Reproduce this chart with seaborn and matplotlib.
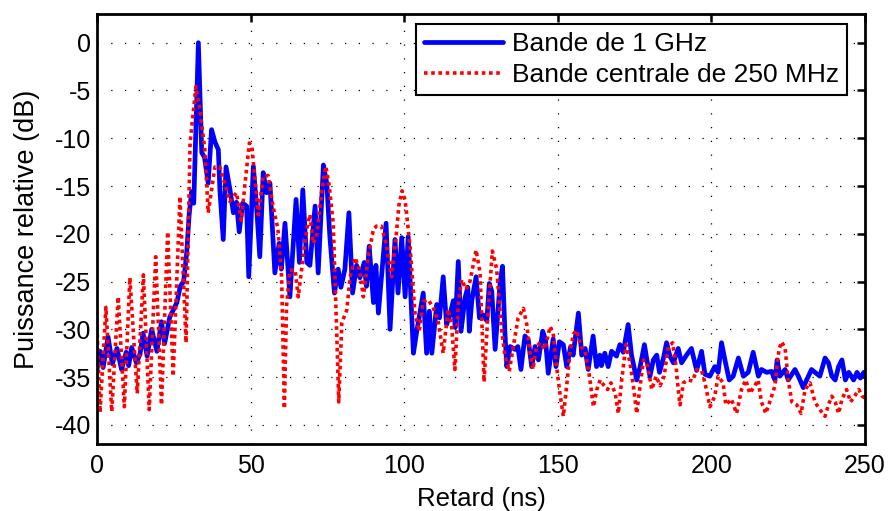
import matplotlib
matplotlib.use("Agg")
import matplotlib.pyplot as plt
import seaborn as sns
import pandas as pd

# ---- data ----
blue_delay = [0, 1, 2, 3.6, 5, 6.5, 8, 9.5, 10.3, 11.3, 12.8, 14, 15, 16.3, 17.8, 19.5, 21, 22, 23.7, 24.8,
              26, 27.1, 28.2, 29.2, 30, 30.8, 31.5, 33, 34.1, 35, 36.2, 37.3, 38.4, 39.5, 40, 41.1, 42, 43.3,
              44.4, 45.4, 46.3, 47.4, 48.7, 49.4, 50.9, 52, 53, 54.1, 55.2, 56.3, 57.9, 59.3, 60, 61.2, 62.8,
              64.8, 65.9, 67, 68.3, 69.3, 71, 72, 73.7, 74.8, 75.8, 77.3, 78.5, 79.4, 80.7, 82, 83.2, 84.5,
              85.6, 87, 87.7, 88.6, 90, 90.8, 91.6, 94.1, 95.4, 97, 98, 99.2, 100.3, 101.3, 103, 104, 106.2,
              107.3, 108.2, 109, 110.6, 111.5, 112.7, 113.8, 114.9, 116, 116.6, 117.6, 118.5, 119.8, 120.7,
              121.2, 122, 123.4, 124.5, 125.8, 126.9, 127.7, 128.5, 129.6, 131.2, 132, 132.8, 133.4, 134.5,
              136.1, 137, 138, 139.3, 140.4, 141.5, 142.6, 143.7, 145.1, 146.0, 146.9, 148.5, 149.4, 150.5,
              151.8, 152.9, 154.2, 155, 156.7, 157.8, 158.9, 159.9, 161.5, 162.6, 163.7, 164.2, 165.3, 166.4,
              167.5, 169.1, 170.2, 171.3, 172.9, 174, 175.7, 176.8, 178.2, 179, 180, 181.1, 182.2, 183.1,
              184.4, 185.4, 186.5, 187.6, 189.2, 190.3, 191.9, 193.5, 194.6, 195.2, 196.8, 197.9, 199.5,
              201.1, 202.2, 203.3, 204.4, 205.8, 207.1, 208.8, 210.4, 212, 213.6, 215.3, 216.3, 218, 219.6,
              220.7, 221.4, 222.3, 224, 225, 227.2, 228.3, 229.9, 231, 232.6, 233.7, 235.3, 237, 238.1,
              239.2, 240.3, 241.4, 242.5, 243.6, 244.7, 246.3, 247.4, 248.5, 249.6, 250]
blue_power = [-34.2, -32.3, -34.0, -30.8, -33.6, -32.0, -34.2, -32.4, -33.8, -31.9, -33.5, -32.6, -30.4, -32.8,
              -30.0, -32.3, -29.2, -31.5, -28.7, -28.0, -27.2, -25.5, -25.0, -22.0, -18.0, -15.6, -16.8, 0.0,
              -11.5, -12.0, -14.7, -9.1, -10.4, -11.2, -15.4, -20.6, -13.0, -15.4, -17.8, -16.7, -19.8, -16.8,
              -17.1, -24.5, -12.95, -17.4, -22.4, -13.6, -15.7, -14.7, -24.1, -21.0, -23.7, -18.9, -26.6,
              -16.4, -23.0, -15.4, -23.0, -23.3, -17.1, -24.1, -12.8, -14.7, -20.3, -26.2, -23.7, -25.6,
              -23.7, -17.8, -26.2, -23.3, -24.6, -23.0, -25.5, -21.3, -27.2, -23.3, -28.3, -18.9, -30.0,
              -20.6, -26.2, -20.4, -26.6, -20.3, -32.5, -30.4, -26.2, -32.5, -28.1, -32.5, -27.4, -28.8,
              -24.5, -29.5, -28.5, -27.0, -29.8, -22.9, -30.2, -26.7, -25.6, -30.2, -27.0, -24.5, -28.8,
              -28.5, -29.1, -25.2, -26.0, -32.1, -25.2, -23.4, -30.4, -33.9, -31.8, -32.1, -31.8, -34.2,
              -30.7, -31.1, -33.9, -31.8, -33.2, -30.2, -31.1, -34.6, -31.0, -33.9, -31.3, -31.6, -33.9,
              -31.8, -32.7, -28.3, -32.7, -32.0, -34.2, -30.7, -33.9, -32.7, -33.8, -32.5, -33.9, -32.3,
              -32.8, -31.6, -32.4, -29.5, -32.7, -35.3, -33.9, -31.6, -33.2, -34.9, -33.2, -32.7, -34.5,
              -33.0, -31.4, -32.8, -33.5, -32.0, -33.5, -32.7, -32.0, -33.5, -34.3, -32.3, -34.7, -34.9,
              -33.9, -34.5, -31.4, -33.2, -35.3, -34.9, -33.0, -34.9, -34.5, -32.4, -34.9, -34.2, -34.5,
              -34.4, -35.3, -33.2, -34.9, -34.2, -35.3, -34.2, -34.9, -36.1, -35.3, -34.2, -34.5, -34.9,
              -33.0, -33.5, -34.9, -35.3, -33.9, -33.2, -35.3, -34.5, -35.3, -34.5, -35.1, -34.5, -34.8]

red_delay = [0, 1, 2.9, 4.8, 6.9, 8.9, 10.7, 13.1, 15.1, 17, 19.1, 21, 23, 24.8, 27, 29, 30.3, 32.2, 33.5,
             35.1, 36.2, 38.4, 40, 42.2, 43.2, 45.4, 47, 48.1, 49.6, 50.4, 52.5, 54.1, 55.7, 57.3, 58.9, 60.1,
             61, 61.7, 62.8, 64.5, 65.5, 66.9, 68.3, 69.3, 70.4, 71.5, 73.2, 74.5, 75.6, 76.9, 78, 78.7, 79.7,
             81.3, 82.4, 84, 85.4, 86.7, 88.3, 90, 91, 92.6, 94.1, 95.9, 97.3, 98.3, 99.3, 100.3, 101.9,
             103.5, 104.9, 106.2, 107.8, 109.4, 111, 112.7, 114.3, 115.4, 116.5, 117.6, 118.7, 120.1, 121.4,
             123.4, 124.7, 126, 127.3, 128.7, 130.1, 131.7, 132.8, 134.2, 135.5, 137.1, 138.8, 139.9, 141,
             141.9, 143.1, 144.2, 145.8, 147.5, 148.5, 149.6, 150.7, 151.8, 152.9, 154, 155.1, 156.2, 157.5,
             158.9, 160.3, 161.6, 162.7, 163.8, 165.1, 166.2, 167.3, 168.7, 169.7, 170.8, 172.2, 173.5,
             174.6, 175.7, 176.8, 177.9, 179.2, 180.6, 182, 183.3, 184.6, 186, 187.4, 188.5, 189.2, 189.8,
             190.9, 192.3, 193.9, 195.2, 196.8, 197.9, 199.5, 201.1, 202.2, 203.8, 204.7, 206.5, 208.2,
             209.8, 211.2, 212.5, 214.1, 215.2, 216.3, 217.7, 219, 220.7, 221.4, 222.1, 222.9, 224, 225,
             226.2, 227.8, 229.2, 230.5, 232.1, 233.7, 235.3, 237, 238.1, 239.2, 240.3, 241.4, 242.5, 244,
             245.3, 246.6, 248, 249.1, 250]
red_power = [-29.7, -38.7, -27.7, -38.6, -26.6, -38.1, -24.6, -36.7, -24.3, -38.4, -22.4, -37.9, -19.8, -34.9,
             -16.1, -31.4, -10.5, -4.6, -7.0, -11.2, -17.8, -13.0, -13.0, -15.4, -16.6, -15.7, -18.6, -15.0,
             -10.5, -10.8, -18.0, -14.0, -13.9, -17.1, -19.5, -24.5, -38.3, -27.6, -23.8, -23.8, -26.6, -23.0,
             -19.5, -18.0, -21.0, -20.3, -15.4, -12.95, -15.0, -18.9, -30.0, -37.6, -29.3, -28.0, -24.5,
             -22.5, -23.7, -26.6, -22.4, -19.5, -19.2, -19.2, -21.0, -24.5, -20.5, -17.0, -15.5, -16.5,
             -21.3, -28.3, -30.2, -27.1, -26.9, -27.7, -29.1, -32.5, -27.9, -29.5, -34.2, -27.4, -24.8,
             -25.8, -25.0, -21.7, -24.1, -35.5, -28.1, -21.8, -23.7, -30.0, -32.8, -34.4, -31.8, -28.8,
             -27.8, -29.5, -32.5, -34.2, -31.8, -31.4, -32.1, -29.7, -30.4, -33.9, -36.7, -39.1, -35.9,
             -32.3, -30.5, -30.1, -31.8, -32.3, -34.9, -38.1, -36.3, -35.3, -35.9, -36.3, -35.6, -36.7,
             -38.8, -35.3, -31.6, -33.5, -35.9, -38.8, -35.9, -33.2, -33.8, -36.3, -34.9, -35.9, -34.9,
             -31.8, -31.4, -33.9, -36.3, -37.9, -35.6, -35.3, -35.4, -34.2, -34.3, -35.6, -38.1, -37.0,
             -34.9, -35.6, -37.9, -37.3, -38.8, -36.3, -35.3, -36.7, -35.9, -35.3, -37.6, -38.8, -37.6,
             -35.9, -33.5, -32.0, -31.3, -32.0, -35.3, -37.6, -37.9, -38.8, -36.3, -35.6, -37.6, -38.4,
             -39.1, -37.9, -37.0, -37.6, -38.8, -37.3, -36.3, -37.6, -37.0, -36.3, -37.0, -37.2]

label_blue = "Bande de 1 GHz"
label_red = "Bande centrale de 250 MHz"
x_ticks = [0, 50, 100, 150, 200, 250]
y_ticks = [0, -5, -10, -15, -20, -25, -30, -35, -40]

# ---- style ----
sns.set_style("white")
plt.rcParams["font.family"] = ["Liberation Sans", "DejaVu Sans"]
plt.rcParams["axes.unicode_minus"] = False
plt.rcParams["text.color"] = "black"
plt.rcParams["axes.labelcolor"] = "black"
plt.rcParams["xtick.color"] = "black"
plt.rcParams["ytick.color"] = "black"

fig = plt.figure(figsize=(8.89, 5.11), dpi=100)
ax = fig.add_axes([0.1091, 0.1311, 0.8639, 0.8415])

df_b = pd.DataFrame({"delay": blue_delay, "power": blue_power})
df_r = pd.DataFrame({"delay": red_delay, "power": red_power})

sns.lineplot(data=df_b, x="delay", y="power", ax=ax, color="#0000ff", linewidth=3.4,
             label=label_blue, estimator=None, sort=False)
sns.lineplot(data=df_r, x="delay", y="power", ax=ax, color="#ff0000", linewidth=2.6,
             label=label_red, estimator=None, sort=False, linestyle=(0, (1, 1)))

ax.set_xlim(0, 250)
ax.set_ylim(-42, 3)
ax.set_xticks(x_ticks)
ax.set_yticks(y_ticks)
ax.set_xticklabels([str(v) for v in x_ticks])
ax.set_yticklabels([str(v) for v in y_ticks])

ax.grid(True, color="black", linestyle=(0, (1, 10)), linewidth=0.9)
for s in ax.spines.values():
    s.set_color("black")
    s.set_linewidth(2.0)
    s.set_visible(True)

ax.tick_params(axis="both", which="major", direction="in", length=6, width=1.8,
               top=True, right=True, labelsize=18, colors="black")
ax.tick_params(axis="x", pad=7)
ax.tick_params(axis="y", pad=4)

ax.set_xlabel("Retard (ns)", fontsize=18.5, labelpad=7, color="black")
ax.set_ylabel("Puissance relative (dB)", fontsize=19.5, labelpad=11, color="black")

leg = ax.legend(loc="upper right", bbox_to_anchor=(0.9766, 0.9767), borderaxespad=0,
                fontsize=19, frameon=True, fancybox=False, framealpha=1, edgecolor="black",
                handlelength=3.0, handletextpad=0.35, labelspacing=0.28, borderpad=0.3)
leg.get_frame().set_linewidth(1.5)
for t in leg.get_texts():
    t.set_color("black")

fig.savefig("out.png", dpi=100)
